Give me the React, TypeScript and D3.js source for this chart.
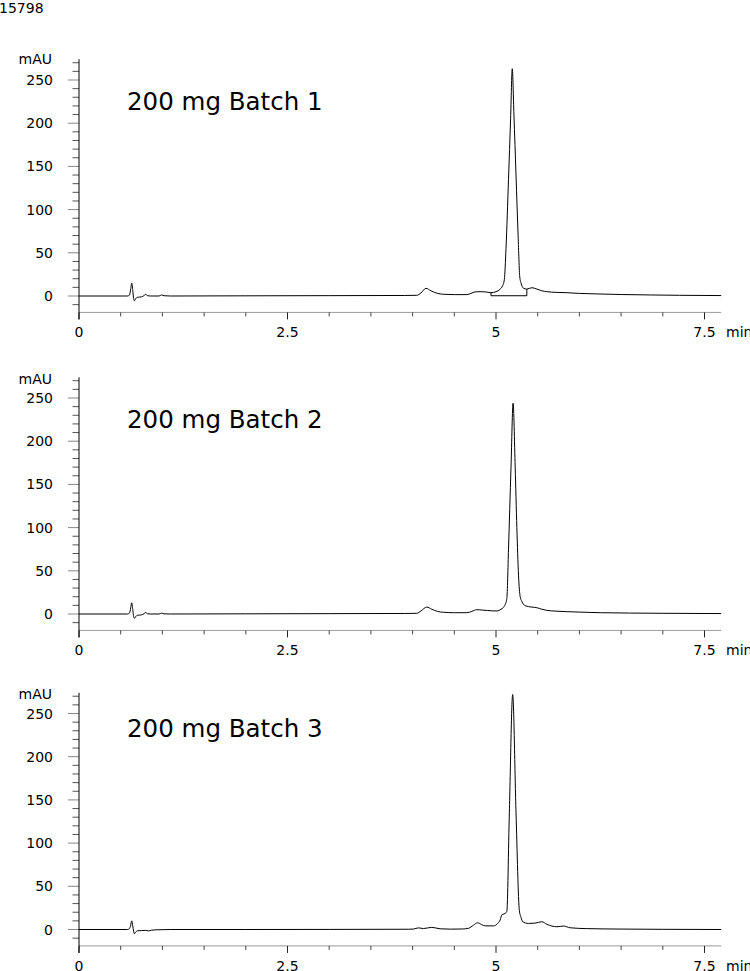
import React from "react";
import * as d3 from "d3";

const sampleId = "15798";
const batchLabels = ["200 mg Batch 1", "200 mg Batch 2", "200 mg Batch 3"];
const unitLabel = "mAU";
const timeUnit = "min";
const yTicksMajor = [0, 50, 100, 150, 200, 250];
const yTicksMinor = [-10, 10, 20, 30, 40, 60, 70, 80, 90, 110, 120, 130, 140, 160, 170, 180, 190, 210, 220, 230, 240, 260, 270];
const xTicksMajor = [0, 2.5, 5, 7.5];
const xTickLabels = ["0", "2.5", "5", "7.5"];
const xTicksMinor = [0.5, 1, 1.5, 2, 3, 3.5, 4, 4.5, 5.5, 6, 6.5, 7];

const batch1: [number, number][] = [
  [0, 0], [0.58, 0], [0.605, 1], [0.62, 8], [0.632, 15], [0.645, 6], [0.655, -3], [0.665, -5.5],
  [0.68, -3], [0.7, -1.5], [0.75, -1], [0.78, 0.5], [0.8, 2], [0.82, 0.5], [0.86, 0], [0.96, 0],
  [0.99, 1.2], [1.02, 0.3], [1.1, 0], [2, 0.2], [3, 0.4], [3.9, 0.6], [4.05, 0.8], [4.1, 3.5],
  [4.16, 8.9], [4.22, 6], [4.3, 3], [4.37, 2], [4.5, 1.6], [4.65, 1.6], [4.7, 3], [4.75, 4.8],
  [4.82, 5], [4.89, 4.5], [4.94, 3.8], [5.0, 5], [5.05, 8], [5.08, 12], [5.1, 19], [5.12, 55],
  [5.15, 135], [5.175, 205], [5.195, 263], [5.215, 210], [5.24, 140], [5.265, 70], [5.285, 22],
  [5.3, 15], [5.33, 9], [5.37, 8], [5.43, 9.6], [5.49, 8], [5.55, 6], [5.61, 5], [5.72, 4.2],
  [5.85, 3.8], [6.0, 3], [6.25, 2.3], [6.5, 1.7], [6.85, 1.2], [7.2, 0.8], [7.7, 0.5],
];

const batch2: [number, number][] = [
  [0, 0], [0.58, 0], [0.605, 1], [0.62, 7], [0.632, 13], [0.645, 5], [0.655, -3], [0.665, -5],
  [0.68, -3], [0.7, -1.5], [0.75, -1], [0.78, 0.3], [0.8, 1.8], [0.82, 0.3], [0.86, 0], [0.96, 0],
  [0.99, 1], [1.02, 0.2], [1.1, 0], [2, 0.2], [3, 0.4], [3.9, 0.6], [4.05, 0.8], [4.1, 3.5],
  [4.17, 8], [4.23, 5.5], [4.3, 3], [4.37, 2], [4.5, 1.5], [4.65, 1.5], [4.71, 3], [4.77, 5],
  [4.84, 4.5], [4.9, 4], [5.01, 3.5], [5.06, 5.5], [5.09, 7.7], [5.11, 11], [5.13, 18], [5.15, 75],
  [5.18, 170], [5.205, 244], [5.23, 170], [5.25, 100], [5.27, 45], [5.29, 20], [5.31, 14.6],
  [5.35, 9.6], [5.43, 8], [5.49, 7.3], [5.55, 5.5], [5.61, 4.2], [5.72, 3.3], [5.85, 2.7],
  [6.0, 2.2], [6.25, 1.5], [6.6, 1.1], [7, 0.8], [7.7, 0.5],
];

const batch3: [number, number][] = [
  [0, 0], [0.58, 0], [0.605, 1], [0.62, 5], [0.632, 10], [0.645, 4], [0.655, -2], [0.665, -5],
  [0.68, -3], [0.7, -1.5], [0.75, -1.2], [0.8, -1], [0.83, -1.6], [0.87, -0.8], [0.95, -0.3],
  [1.1, 0], [2, 0], [3, 0.1], [3.95, 0.3], [4.01, 0.5], [4.07, 1.9], [4.13, 1.1], [4.23, 2.5],
  [4.33, 0.8], [4.45, 0.4], [4.6, 0.6], [4.67, 1.4], [4.73, 5], [4.78, 7.8], [4.83, 5.5],
  [4.87, 4.2], [4.97, 4.2], [5.02, 7], [5.05, 11], [5.07, 17], [5.11, 18.6], [5.13, 21],
  [5.16, 135], [5.2, 272], [5.24, 135], [5.28, 22], [5.3, 14], [5.32, 9], [5.39, 7], [5.47, 7.4],
  [5.55, 9], [5.61, 6], [5.67, 4], [5.73, 3.2], [5.81, 4], [5.89, 2], [6.09, 1], [6.5, 0.5],
  [7, 0.2], [7.7, 0],
];

const batch1Integration = [4.94, 5.37];

const W = 750;
const H = 971;
const FONT = "'DejaVu Sans', Verdana, sans-serif";

const series = [batch1, batch2, batch3];
const panelZeros = [296, 614, 929.5];
const titleBaselines = [110, 428, 737];
const unitBaselines = [64, 384, 699];

const xScale = d3.scaleLinear().domain([0, 7.5]).range([79, 704.5]);

function Panel({ idx }: { idx: number }) {
  const zero = panelZeros[idx];
  const y = d3.scaleLinear().domain([0, 250]).range([zero, zero - 216]);
  const data = series[idx];
  const axisY = y(-19);
  const topY = y(274);
  const x0 = xScale(0);
  const xEnd = xScale(7.7);
  const line = d3
    .line<[number, number]>()
    .x((d) => xScale(d[0]))
    .y((d) => y(d[1]))
    .curve(d3.curveMonotoneX);

  const valueAt = (t: number) => {
    const i = d3.bisector((d: [number, number]) => d[0]).left(data, t);
    const a = data[Math.max(0, i - 1)];
    const b = data[Math.min(data.length - 1, i)];
    if (a[0] === b[0]) return a[1];
    return a[1] + ((b[1] - a[1]) * (t - a[0])) / (b[0] - a[0]);
  };

  return (
    <g>
      <text x={127} y={titleBaselines[idx]} fontSize={24.5} fontFamily={FONT} fill="#000">
        {batchLabels[idx]}
      </text>
      <text x={52} y={unitBaselines[idx]} fontSize={14} fontFamily={FONT} textAnchor="end" fill="#000">
        {unitLabel}
      </text>
      {/* y axis minor ticks */}
      {yTicksMinor.map((v) => (
        <line key={"ym" + v} x1={72.5} x2={x0} y1={y(v)} y2={y(v)} stroke="#555" strokeWidth={1} />
      ))}
      {yTicksMajor.map((v) => (
        <g key={"yM" + v}>
          <line x1={68} x2={x0} y1={y(v)} y2={y(v)} stroke="#888" strokeWidth={1} />
          <text x={53} y={y(v)} dy="0.36em" fontSize={14} fontFamily={FONT} textAnchor="end" fill="#000">
            {v}
          </text>
        </g>
      ))}
      {/* x axis */}
      <line x1={x0} x2={xEnd} y1={axisY} y2={axisY} stroke="#9a9a9a" strokeWidth={1} />
      {xTicksMinor.map((t) => (
        <line key={"xm" + t} x1={xScale(t)} x2={xScale(t)} y1={axisY} y2={axisY + 4} stroke="#444" strokeWidth={1} />
      ))}
      {xTicksMajor.map((t, i) => (
        <g key={"xM" + t}>
          <line x1={xScale(t)} x2={xScale(t)} y1={axisY} y2={axisY + 7} stroke="#222" strokeWidth={1} />
          <text x={xScale(t)} y={axisY + 25} fontSize={14} fontFamily={FONT} textAnchor="middle" fill="#000">
            {xTickLabels[i]}
          </text>
        </g>
      ))}
      <text x={726} y={axisY + 25} fontSize={14} fontFamily={FONT} fill="#000">
        {timeUnit}
      </text>
      {/* y axis line */}
      <line x1={x0} x2={x0} y1={topY} y2={axisY + 7} stroke="#000" strokeWidth={1} />
      {/* trace */}
      <path d={line(data) || ""} fill="none" stroke="#000" strokeWidth={1} />
      {idx === 0 && (
        <path
          d={`M${xScale(batch1Integration[0])},${y(valueAt(batch1Integration[0]))}V${y(0.3)}H${xScale(
            batch1Integration[1]
          )}V${y(valueAt(batch1Integration[1]))}`}
          fill="none"
          stroke="#000"
          strokeWidth={1}
        />
      )}
    </g>
  );
}

export default function App() {
  return (
    <svg
      width={W}
      height={H}
      viewBox={`0 0 ${W} ${H}`}
      style={{ position: "absolute", left: 0, top: 0, background: "#fff" }}
    >
      <rect x={0} y={0} width={W} height={H} fill="#fff" />
      <text x={-1} y={13} fontSize={14} fontFamily={FONT} fill="#000">
        {sampleId}
      </text>
      {[0, 1, 2].map((i) => (
        <Panel key={i} idx={i} />
      ))}
    </svg>
  );
}
